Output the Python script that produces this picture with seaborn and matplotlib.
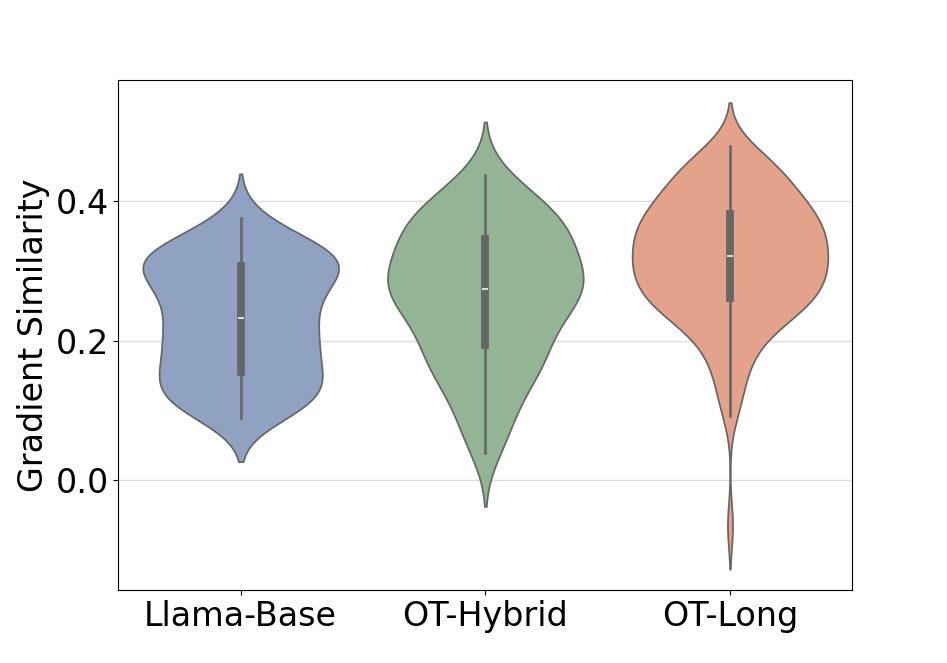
import numpy as np
import pandas as pd
import matplotlib
matplotlib.use("Agg")
import matplotlib.pyplot as plt
import seaborn as sns

# model names on the x axis
models = ["Llama-Base", "OT-Hybrid", "OT-Long"]

# gradient similarity samples
llama_base = [0.090, 0.095, 0.099, 0.104, 0.109, 0.113, 0.118, 0.123,
              0.128, 0.132, 0.137, 0.142, 0.146, 0.151,
              0.154, 0.160, 0.166, 0.172, 0.178, 0.184, 0.189, 0.194,
              0.199, 0.204, 0.209, 0.214, 0.219, 0.224, 0.229,
              0.236, 0.242, 0.248, 0.254, 0.259, 0.264, 0.269,
              0.274, 0.279, 0.284, 0.289, 0.294, 0.299, 0.304,
              0.308, 0.310, 0.312, 0.314, 0.316, 0.319, 0.322, 0.325,
              0.329, 0.333, 0.338, 0.344, 0.352, 0.362, 0.376]
ot_hybrid = [0.039, 0.058, 0.076, 0.092, 0.107, 0.120, 0.132, 0.142,
             0.151, 0.159, 0.166, 0.172, 0.178, 0.183, 0.188,
             0.196, 0.205, 0.213, 0.220, 0.227, 0.233, 0.239, 0.244,
             0.249, 0.254, 0.258, 0.262, 0.266, 0.269, 0.272,
             0.277, 0.281, 0.285, 0.289, 0.293, 0.297, 0.301, 0.305,
             0.309, 0.313, 0.318, 0.323, 0.329, 0.336, 0.344,
             0.349, 0.352, 0.356, 0.360, 0.364, 0.368, 0.373, 0.378,
             0.384, 0.390, 0.397, 0.404, 0.413, 0.423, 0.437]
ot_long = [-0.065,
           0.092, 0.110, 0.126, 0.140, 0.152, 0.163, 0.173, 0.182, 0.190, 0.197,
           0.203, 0.209, 0.214, 0.219, 0.223, 0.227, 0.231, 0.234, 0.237, 0.240,
           0.243, 0.245, 0.247, 0.249, 0.251, 0.253, 0.255, 0.257, 0.259,
           0.261, 0.264, 0.266, 0.269, 0.271, 0.273, 0.275, 0.277, 0.279, 0.281,
           0.283, 0.285, 0.287, 0.289, 0.291, 0.293, 0.295, 0.297, 0.299, 0.301,
           0.303, 0.305, 0.307, 0.309, 0.311, 0.313, 0.314, 0.316, 0.318, 0.319,
           0.323, 0.325, 0.327, 0.329, 0.331, 0.333, 0.335, 0.337, 0.339, 0.341,
           0.343, 0.345, 0.347, 0.349, 0.351, 0.353, 0.355, 0.357, 0.359, 0.361,
           0.363, 0.365, 0.367, 0.369, 0.371, 0.373, 0.375, 0.377, 0.379, 0.381,
           0.384, 0.386, 0.388, 0.390, 0.393, 0.395, 0.398, 0.400, 0.403, 0.406,
           0.409, 0.412, 0.415, 0.418, 0.421, 0.424, 0.427, 0.430, 0.433, 0.436,
           0.440, 0.444, 0.448, 0.452, 0.456, 0.460, 0.464, 0.468, 0.473, 0.479]

colors = ["#8FA2C1", "#94B594", "#E5A28B"]
bw_adjust = [0.86, 0.88, 0.88]

# long format dataframe
df = pd.DataFrame({
    "Model": ["Llama-Base"] * len(llama_base) + ["OT-Hybrid"] * len(ot_hybrid) + ["OT-Long"] * len(ot_long),
    "Gradient Similarity": llama_base + ot_hybrid + ot_long,
})

fig, ax = plt.subplots(figsize=(9.47, 6.63), dpi=100)
# one call per model so each violin keeps its own bandwidth
for m, c, bw in zip(models, colors, bw_adjust):
    sns.violinplot(data=df[df["Model"] == m], x="Model", y="Gradient Similarity", order=models,
                   color=c, saturation=1, linecolor="#666666", density_norm="width",
                   bw_adjust=bw, inner="box", ax=ax)

ax.yaxis.grid(True, color="#dddddd", linewidth=1)
ax.set_axisbelow(True)
ax.set_xlabel("")
ax.set_ylabel("Gradient Similarity", fontsize=24)
ax.tick_params(axis="both", labelsize=24)
ax.set_yticks([0.0, 0.2, 0.4])
ax.set_ylim(-0.157, 0.574)

plt.savefig("out.png", dpi=100)
plt.close()
